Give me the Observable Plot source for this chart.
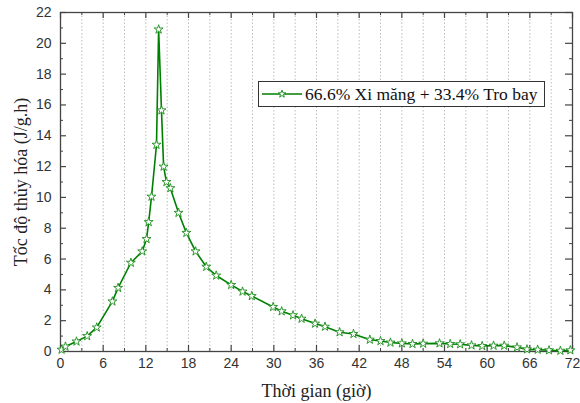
<!DOCTYPE html>
<html>
<head>
<meta charset="utf-8">
<script src="https://cdn.jsdelivr.net/npm/d3@7"></script>
<script src="https://cdn.jsdelivr.net/npm/@observablehq/plot@0.6"></script>
<style>
  html, body { margin: 0; padding: 0; background: white; }
  #wrap { position: relative; width: 580px; height: 403px; }
  #legend {
    position: absolute; left: 258px; top: 81px; width: 285px; height: 24px;
    border: 1px solid #333; background: white; display: flex; align-items: center;
    font-family: "Liberation Serif", "Times New Roman", serif; font-size: 17.5px; color: #111;
    box-sizing: content-box; white-space: nowrap;
  }
  #legend svg { margin-left: 3px; margin-right: 3px; flex: none; }
</style>
</head>
<body>
<div id="wrap"></div>
<script>
const seriesName = "66.6% Xi măng + 33.4% Tro bay";
const hours = [0.15, 0.7, 2.25, 3.75, 5.1, 7.3, 8.1, 9.9, 11.5, 12.1, 12.4, 12.8, 13.5, 13.8, 14.2, 14.5, 14.9, 15.45, 16.6, 17.7, 19.0, 20.5, 21.9, 24.0, 25.6, 26.9, 29.9, 31.1, 32.7, 33.9, 35.8, 37.2, 39.25, 41.2, 43.5, 45.0, 46.4, 48.0, 49.5, 51.0, 53.3, 54.8, 56.2, 57.8, 59.3, 60.9, 62.4, 64.2, 65.6, 67.1, 68.7, 70.3, 71.7];
const rates = [0.12, 0.32, 0.65, 1.0, 1.56, 3.25, 4.13, 5.76, 6.5, 7.3, 8.4, 10.05, 13.42, 20.9, 15.65, 12.0, 11.0, 10.6, 9.0, 7.7, 6.5, 5.5, 4.93, 4.32, 3.89, 3.6, 2.89, 2.61, 2.35, 2.13, 1.81, 1.61, 1.25, 1.14, 0.77, 0.68, 0.58, 0.53, 0.49, 0.51, 0.53, 0.49, 0.47, 0.40, 0.36, 0.38, 0.38, 0.27, 0.14, 0.12, 0.08, 0.05, 0.08];
const xTicks = [0, 6, 12, 18, 24, 30, 36, 42, 48, 54, 60, 66, 72];
const xMinorTicks = [3, 9, 15, 21, 27, 33, 39, 45, 51, 57, 63, 69];
const yTicks = [0, 2, 4, 6, 8, 10, 12, 14, 16, 18, 20, 22];
const yMinorTicks = [1, 3, 5, 7, 9, 11, 13, 15, 17, 19, 21];
const xLabel = "Thời gian (giờ)";
const yLabel = "Tốc độ thủy hóa (J/g.h)";

const data = hours.map((h, i) => ({h, r: rates[i]}));
const W = 580, H = 403, mL = 60, mR = 8, mT = 12, mB = 52;
const iW = W - mL - mR, iH = H - mT - mB;
const gridX = xTicks.concat(xMinorTicks).filter(d => d > 0 && d < 72);
const green = "#008000";
const serif = "Liberation Serif, Times New Roman, serif";

const chart = Plot.plot({
  width: W, height: H,
  marginLeft: mL, marginRight: mR, marginTop: mT, marginBottom: mB,
  x: {domain: [0, 72]},
  y: {domain: [0, 22]},
  style: {fontFamily: "Liberation Sans, Arial, sans-serif", fontSize: "14px", color: "#333", background: "white"},
  marks: [
    Plot.ruleX(gridX, {stroke: "#b5b5b5", strokeDasharray: "1.5,2", strokeWidth: 0.9}),
    Plot.axisX({ticks: xTicks, tickSize: 0, tickPadding: 7, tickFormat: d => String(d), label: null, fontSize: 14}),
    Plot.axisY({ticks: yTicks, tickSize: 0, tickPadding: 9, tickFormat: d => String(d), label: null, fontSize: 14}),
    // bottom ticks (inward)
    Plot.tickX(xTicks, {stroke: "#444", strokeWidth: 1.2, insetTop: iH - 6}),
    Plot.tickX(xMinorTicks, {stroke: "#444", strokeWidth: 1, insetTop: iH - 3}),
    // top ticks (inward)
    Plot.tickX(xTicks, {stroke: "#444", strokeWidth: 1.2, insetBottom: iH - 6}),
    Plot.tickX(xMinorTicks, {stroke: "#444", strokeWidth: 1, insetBottom: iH - 3}),
    // left ticks (inward)
    Plot.tickY(yTicks, {stroke: "#444", strokeWidth: 1.2, insetRight: iW - 6}),
    Plot.tickY(yMinorTicks, {stroke: "#444", strokeWidth: 1, insetRight: iW - 3}),
    // right ticks (inward)
    Plot.tickY(yTicks, {stroke: "#444", strokeWidth: 1.2, insetLeft: iW - 7}),
    Plot.tickY(yMinorTicks, {stroke: "#444", strokeWidth: 1, insetLeft: iW - 3}),
    Plot.frame({stroke: "#444", strokeWidth: 1.3}),
    Plot.line(data, {x: "h", y: "r", stroke: green, strokeWidth: 1.6}),
    Plot.dot(data, {x: "h", y: "r", symbol: "star", r: 2.8, stroke: "#1a8c1a", fill: "white", strokeWidth: 0.9}),
    Plot.text([xLabel], {frameAnchor: "bottom", dy: 40, lineAnchor: "middle", textAnchor: "middle", fontFamily: serif, fontSize: 18, fill: "#222"}),
    Plot.text([yLabel], {frameAnchor: "left", dx: -39, rotate: -90, lineAnchor: "middle", textAnchor: "middle", fontFamily: serif, fontSize: 18, fill: "#222"})
  ]
});

const wrap = document.getElementById("wrap");
wrap.appendChild(chart);

const legend = document.createElement("div");
legend.id = "legend";
legend.innerHTML = `<svg width="40" height="12" viewBox="0 0 40 12">
  <line x1="0" y1="6" x2="40" y2="6" stroke="${green}" stroke-width="1.6"></line>
  <path transform="translate(20,6)" d="${d3.symbol(d3.symbolStar, 18)()}" fill="white" stroke="#1a8c1a" stroke-width="0.9"></path>
</svg><span>${seriesName}</span>`;
wrap.appendChild(legend);
</script>
</body>
</html>
